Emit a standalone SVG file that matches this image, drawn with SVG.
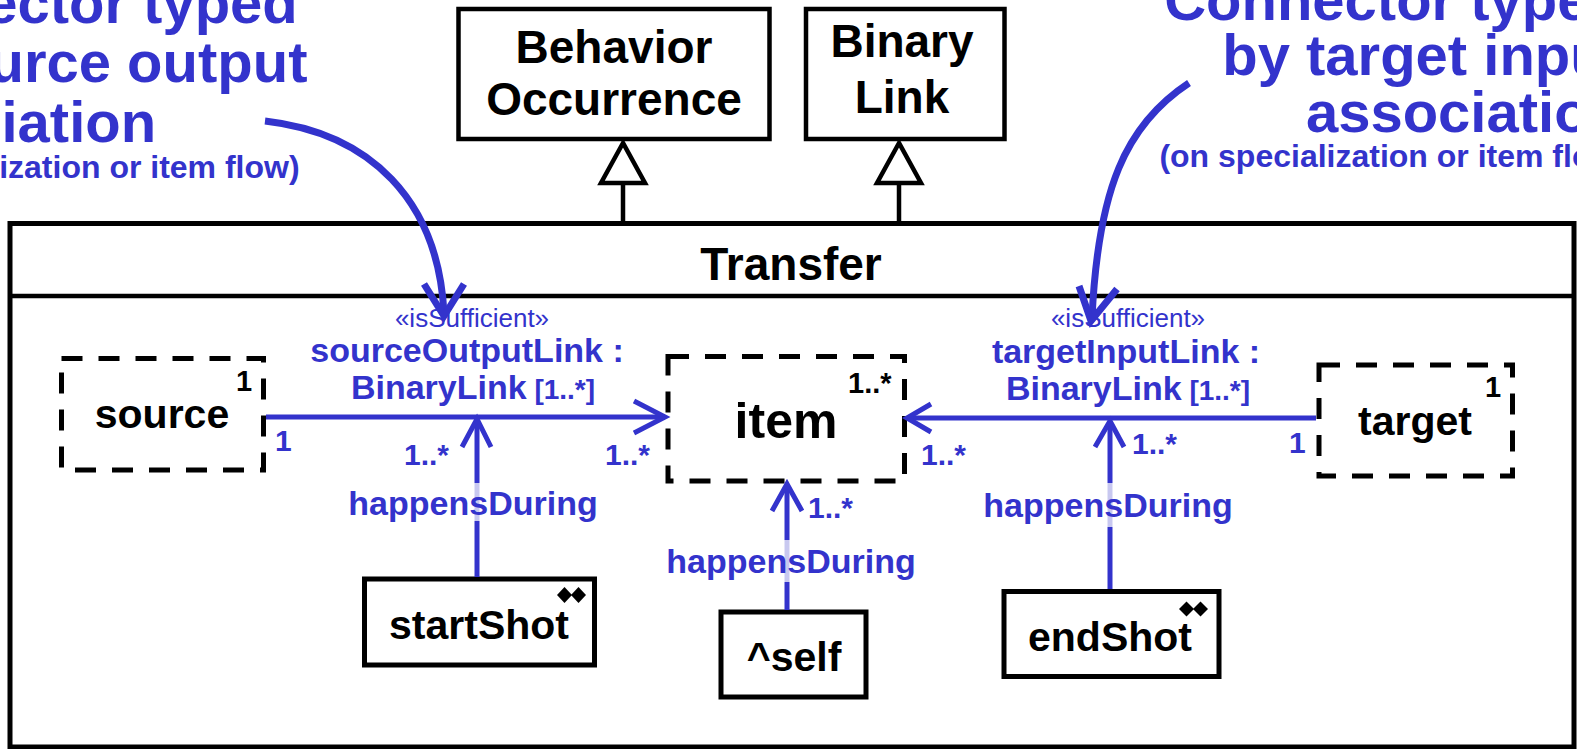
<svg xmlns="http://www.w3.org/2000/svg" width="1577" height="749" viewBox="0 0 1577 749">
<style>
text{font-family:"Liberation Sans",Arial,sans-serif;font-weight:bold}
.blk{fill:#000}
.blu{fill:#3333cc}
.ann{font-size:58px;fill:#3333cc}
.annS{font-size:32px;fill:#3333cc}
.cls{fill:#fff;stroke:#000;stroke-width:4.5}
.part{fill:#fff;stroke:#000;stroke-width:5;stroke-dasharray:21 16}
.inst{fill:#fff;stroke:#000;stroke-width:5}
.nm{font-size:41px;text-anchor:middle}
.hd{font-size:46px;text-anchor:middle}
.mult{font-size:29px}
.bm{font-size:30px;fill:#3333cc}
.lbl{font-size:34px;fill:#3333cc;text-anchor:middle}
.st{font-size:26px;font-weight:normal;fill:#3333cc;text-anchor:middle}
.cn{stroke:#3333cc;stroke-width:5;fill:none}
.lt{stroke:#c8c8f0;stroke-width:5;fill:none}
.oa{stroke:#3333cc;stroke-width:5;fill:none;stroke-linejoin:miter}
.an{stroke:#3333cc;stroke-width:7;fill:none}
.gen{stroke:#000;stroke-width:4.5;fill:none}
.tri{fill:#fff;stroke:#000;stroke-width:4.5;stroke-linejoin:miter}
</style>
<rect width="1577" height="749" fill="#fff"/>

<g id="annotation-left">
<text class="ann" x="-163" y="23">Connector typed</text>
<text class="ann" x="-163" y="82">by source output</text>
<text class="ann" x="-163" y="142">association</text>
<text class="annS" x="-168" y="178">(on specialization or item flow)</text>
</g>
<g id="annotation-right">
<text class="ann" x="1625" y="20" text-anchor="end">Connector typed</text>
<text class="ann" x="1625" y="75" text-anchor="end">by target input</text>
<text class="ann" x="1625" y="132" text-anchor="end">association</text>
<text class="annS" x="1627" y="167" text-anchor="end">(on specialization or item flow)</text>
</g>

<g id="BehaviorOccurrence">
<rect class="cls" x="458.5" y="9" width="311" height="130"/>
<text class="hd blk" x="614" y="63">Behavior</text>
<text class="hd blk" x="614" y="115">Occurrence</text>
</g>
<g id="BinaryLink">
<rect class="cls" x="806" y="9" width="198.5" height="130"/>
<text class="hd blk" x="902" y="57">Binary</text>
<text class="hd blk" x="902" y="113">Link</text>
</g>

<g id="Transfer">
<rect x="10" y="223.5" width="1564" height="523.5" fill="#fff" stroke="#000" stroke-width="5"/>
<line x1="10" y1="296" x2="1574" y2="296" stroke="#000" stroke-width="4.5"/>
<text class="hd blk" x="791" y="280">Transfer</text>
</g>

<g id="source">
<rect class="part" x="61.5" y="358.5" width="202" height="111.5"/>
<text class="nm blk" x="162" y="428">source</text>
<text class="mult blk" x="236" y="391">1</text>
</g>
<g id="item">
<rect class="part" x="668" y="356.5" width="236.5" height="124.5"/>
<text class="blk" x="786" y="438" font-size="50" text-anchor="middle">item</text>
<text class="mult blk" x="848" y="393">1..*</text>
</g>
<g id="target">
<rect class="part" x="1319" y="365" width="193.5" height="111"/>
<text class="nm blk" x="1415" y="435">target</text>
<text class="mult blk" x="1485" y="397">1</text>
</g>
<g id="startShot">
<rect class="inst" x="364.5" y="579" width="230" height="86"/>
<text class="nm blk" x="479" y="639">startShot</text>
<polygon points="557,595 564.5,587 572,595 564.5,603" fill="#000"/>
<polygon points="571,595 578.5,587 586,595 578.5,603" fill="#000"/>
</g>
<g id="self">
<rect class="inst" x="721" y="612" width="145" height="85"/>
<text class="nm blk" x="794" y="671">^self</text>
</g>
<g id="endShot">
<rect class="inst" x="1004" y="591.5" width="215" height="85"/>
<text class="nm blk" x="1110" y="651">endShot</text>
<polygon points="1179,609 1186.5,601.5 1194,609 1186.5,616.5" fill="#000"/>
<polygon points="1193,609 1200.5,601.5 1208,609 1200.5,616.5" fill="#000"/>
</g>

<g id="connectors">
<line class="gen" x1="623" y1="183" x2="623" y2="222"/>
<polygon class="tri" points="623,143 601,183 645,183"/>
<line class="gen" x1="899" y1="183" x2="899" y2="222"/>
<polygon class="tri" points="899,143 877,183 921,183"/>

<line class="cn" x1="266" y1="417" x2="664" y2="417"/>
<path class="oa" d="M634,401 L665,417 L634,433"/>
<line class="cn" x1="1316" y1="418" x2="908" y2="418"/>
<path class="oa" d="M931,404 L907,418 L931,432"/>

<line class="cn" x1="477" y1="577" x2="477" y2="521"/>
<line class="lt" x1="477" y1="521" x2="477" y2="483"/>
<line class="cn" x1="477" y1="483" x2="477" y2="420"/>
<path class="oa" d="M462,447 L477,419 L491,447"/>

<line class="cn" x1="787" y1="610" x2="787" y2="582"/>
<line class="lt" x1="787" y1="582" x2="787" y2="540"/>
<line class="cn" x1="787" y1="540" x2="787" y2="485"/>
<path class="oa" d="M772,511 L787,484 L802,511"/>

<line class="cn" x1="1110" y1="589" x2="1110" y2="527"/>
<line class="lt" x1="1110" y1="527" x2="1110" y2="483"/>
<line class="cn" x1="1110" y1="483" x2="1110" y2="422"/>
<path class="oa" d="M1095,447 L1110,421 L1124,447"/>

<path class="an" d="M265,121 C370,133 438,200 444,313"/>
<path class="an" d="M424,284 L444,316 L464,284"/>
<path class="an" d="M1189,83 C1125,125 1098,190 1092,318"/>
<path class="an" d="M1079,286 L1091,321 L1117,289"/>
</g>

<g id="labels">
<text class="st" x="472" y="327">«isSufficient»</text>
<text class="lbl" x="467" y="362">sourceOutputLink :</text>
<text class="lbl" x="473" y="399">BinaryLink<tspan font-size="28"> [1..*]</tspan></text>
<text class="bm" x="275" y="451" font-size="28">1</text>
<text class="bm" x="404" y="465">1..*</text>
<text class="bm" x="605" y="465">1..*</text>
<text class="lbl" x="473" y="515">happensDuring</text>
<text class="lbl" x="791" y="573">happensDuring</text>
<text class="bm" x="808" y="518">1..*</text>
<text class="st" x="1128" y="327">«isSufficient»</text>
<text class="lbl" x="1126" y="363">targetInputLink :</text>
<text class="lbl" x="1128" y="400">BinaryLink<tspan font-size="28"> [1..*]</tspan></text>
<text class="bm" x="921" y="465">1..*</text>
<text class="bm" x="1132" y="454">1..*</text>
<text class="bm" x="1289" y="453" font-size="28">1</text>
<text class="lbl" x="1108" y="517">happensDuring</text>
</g>
</svg>
